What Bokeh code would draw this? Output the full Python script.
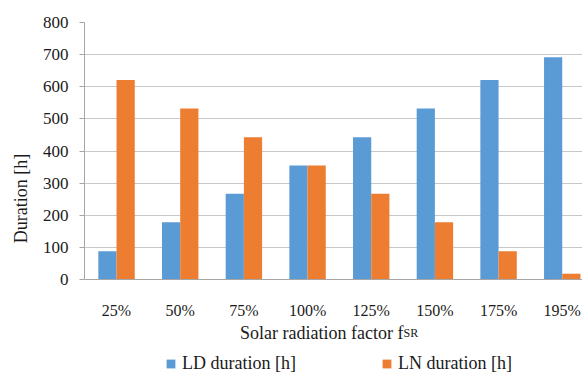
import numpy as np
from bokeh.plotting import figure
from bokeh.models import (ColumnDataSource, Range1d, FixedTicker, Legend, LegendItem, Label, Span)
from bokeh.core.properties import value
from bokeh.embed import file_html
from bokeh.resources import INLINE

categories = ["25%", "50%", "75%", "100%", "125%", "150%", "175%", "195%"]
ld_duration = [88, 178, 267, 355, 443, 532, 621, 692]
ln_duration = [621, 532, 443, 355, 267, 178, 88, 18]
y_ticks = [0, 100, 200, 300, 400, 500, 600, 700, 800]

FONT = "Liberation Serif"
BLUE = "#5b9bd5"
ORANGE = "#ed7d31"
GRID = "#c8c8c8"
AXIS = "#a6a6a6"
TEXT = "#1a1a1a"

W, H = 582, 374
TOP, LEFT = 22, 84
ZERO_PX = 279            # pixel row of value 0
y_max = 800
ppu = (ZERO_PX - TOP) / y_max
y_min = -(H - ZERO_PX) / ppu   # room below the zero line for labels and legend

pos = np.arange(len(categories))
bw = 0.286
src = ColumnDataSource(dict(x=pos, x_ld=pos - bw / 2, x_ln=pos + bw / 2,
                            ld=ld_duration, ln=ln_duration, cat=categories))

p = figure(width=W, height=H, output_backend="svg", toolbar_location=None,
           x_range=Range1d(-0.503, 7.318), y_range=Range1d(y_min, y_max),
           x_axis_location=None,
           min_border_left=LEFT, min_border_right=0, min_border_top=TOP, min_border_bottom=0)
p.outline_line_color = None
p.background_fill_color = "white"

# grid
p.xgrid.grid_line_color = None
p.ygrid.ticker = FixedTicker(ticks=y_ticks)
p.ygrid.grid_line_color = GRID
p.ygrid.grid_line_width = 1

r_ld = p.vbar(x="x_ld", top="ld", width=bw, source=src, color=BLUE, line_color=None)
r_ln = p.vbar(x="x_ln", top="ln", width=bw, source=src, color=ORANGE, line_color=None)

# x axis line at zero
p.add_layout(Span(location=0, dimension="width", line_color=AXIS, line_width=1))

# category labels
p.text(x="x", y=0, text="cat", source=src, y_offset=31,
       text_font=value(FONT), text_font_size="16px", text_color=TEXT,
       text_align="center", text_baseline="alphabetic")

# y axis
p.yaxis.ticker = FixedTicker(ticks=y_ticks)
p.yaxis.bounds = (0, y_max)
p.yaxis.axis_line_color = AXIS
p.yaxis.major_tick_line_color = AXIS
p.yaxis.major_tick_out = 5
p.yaxis.major_tick_in = 0
p.yaxis.minor_tick_line_color = None
p.yaxis.major_label_text_font = FONT
p.yaxis.major_label_text_font_size = "17px"
p.yaxis.major_label_text_color = TEXT
p.yaxis.major_label_standoff = 11
p.yaxis.axis_label = "Duration [h]"
p.yaxis.axis_label_text_font = FONT
p.yaxis.axis_label_text_font_size = "18px"
p.yaxis.axis_label_text_font_style = "normal"
p.yaxis.axis_label_text_color = TEXT
p.yaxis.axis_label_standoff = 9

# x axis title with small-caps "SR"
title_split = 403 - LEFT
p.add_layout(Label(x=title_split, y=H - 332, x_units="screen", y_units="screen",
                   text="Solar radiation factor f", text_font=FONT, text_font_size="18px",
                   text_color=TEXT, text_align="right", text_baseline="alphabetic"))
p.add_layout(Label(x=title_split, y=H - 332, x_units="screen", y_units="screen",
                   text="SR", text_font=FONT, text_font_size="12px",
                   text_color=TEXT, text_align="left", text_baseline="alphabetic"))

legend = Legend(items=[LegendItem(label="LD duration [h]", renderers=[r_ld]),
                       LegendItem(label="LN duration [h]", renderers=[r_ln])],
                orientation="horizontal", location=(165 - LEFT, 0),
                glyph_width=11, glyph_height=11, label_standoff=6, spacing=84,
                label_width=115,
                label_text_font=FONT, label_text_font_size="18px", label_text_color=TEXT,
                label_height=18, padding=0, margin=0,
                border_line_alpha=0, background_fill_alpha=0)
p.add_layout(legend, "center")

open("out.html", "w").write(file_html(p, INLINE))
